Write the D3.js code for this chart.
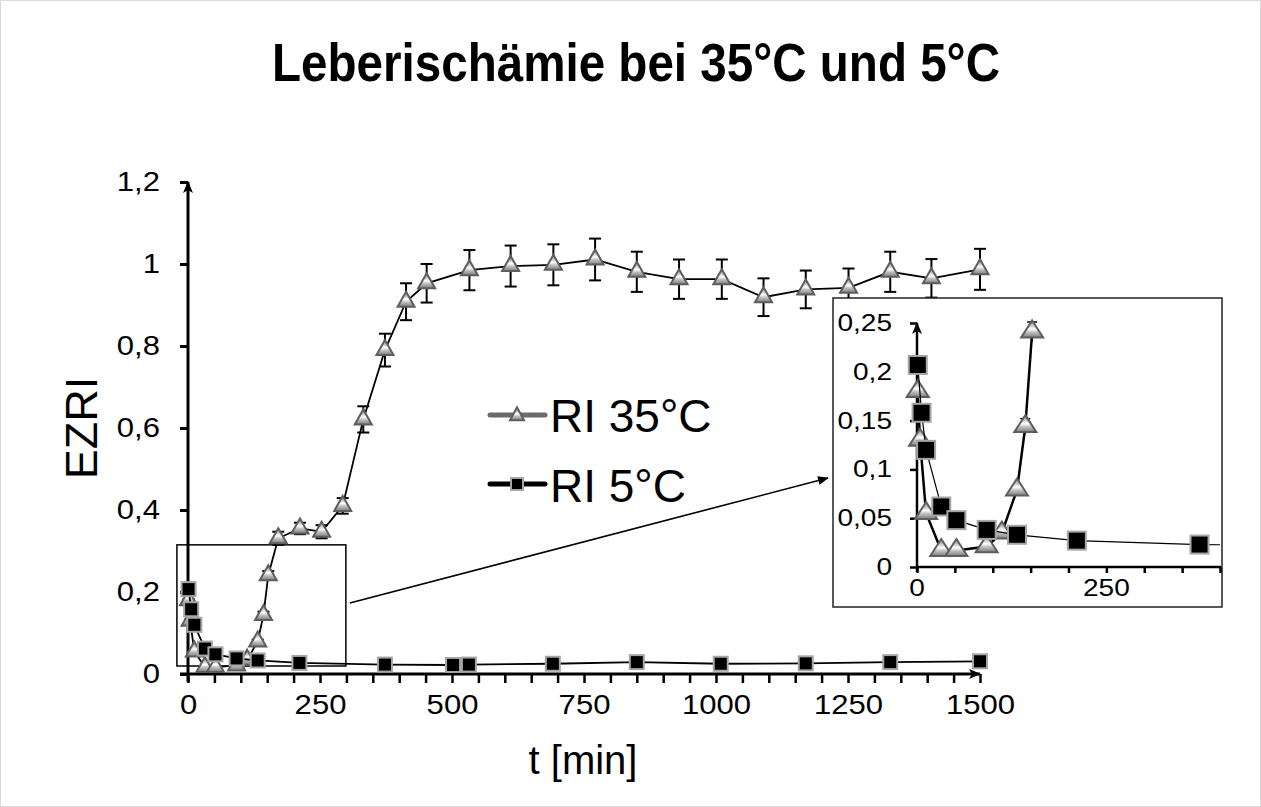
<!DOCTYPE html>
<html>
<head>
<meta charset="utf-8">
<script src="https://cdn.jsdelivr.net/npm/d3@7"></script>
<style>
  body { margin: 0; background: #fff; }
  svg { display: block; }
  text { font-family: Arial, "Liberation Sans", sans-serif; fill: #000; }
</style>
</head>
<body>
<svg id="chart" width="1261" height="807"></svg>
<script>
// ---- data ----
var titleText = "Leberischämie bei 35°C und 5°C";
var seriesNames = ["RI 35°C", "RI 5°C"];

var t35 = [1, 4, 12, 32, 52, 92, 112, 132, 143, 152, 171, 212, 253, 293, 332, 373, 413, 452,
           533, 611, 692, 771, 850, 930, 1011, 1090, 1170, 1251, 1330, 1408, 1500];
var ri35 = [0.18, 0.13, 0.055, 0.017, 0.017, 0.021, 0.035, 0.079, 0.144, 0.241, 0.331, 0.355, 0.347, 0.41, 0.621, 0.79, 0.908, 0.953,
            0.985, 0.995, 0.998, 1.011, 0.981, 0.963, 0.963, 0.919, 0.938, 0.942, 0.981, 0.965, 0.987];
var err35 = [0.003, 0.003, 0.003, 0.002, 0.002, 0.002, 0.003, 0.005, 0.008, 0.01, 0.016, 0.014, 0.016, 0.019, 0.032, 0.04, 0.045, 0.047,
             0.049, 0.05, 0.05, 0.051, 0.049, 0.048, 0.048, 0.046, 0.046, 0.047, 0.049, 0.047, 0.05];

var t5 = [1, 6, 12, 32, 52, 92, 132, 211, 373, 502, 532, 691, 850, 1009, 1170, 1330, 1500];
var ri5 = [0.207, 0.158, 0.12, 0.062, 0.048, 0.038, 0.033, 0.027, 0.023, 0.022, 0.023, 0.025, 0.029, 0.025, 0.026, 0.029, 0.031];

var xTicks = [0, 250, 500, 750, 1000, 1250, 1500];
var xMinorStep = 50;
var yTicks = [0, 0.2, 0.4, 0.6, 0.8, 1, 1.2];
var insetXTicks = [0, 250];
var insetYTicks = [0, 0.05, 0.1, 0.15, 0.2, 0.25];
var zoomRegion = [-21, 299, 0.0195, 0.315];   // t0, t1, v0, v1 shown in the inset

var s35 = t35.map(function (t, i) { return { t: t, v: ri35[i], e: err35[i] }; });
var s5 = t5.map(function (t, i) { return { t: t, v: ri5[i] }; });

var de = d3.formatLocale({ decimal: ",", thousands: ".", grouping: [3], currency: ["", " €"] });
var fmtY = de.format(".1~f");
var fmtYi = de.format(".2~f");
var fmtX = d3.format("d");

var svg = d3.select("#chart");

// outer border
svg.append("rect").attr("x", 0.5).attr("y", 0.5).attr("width", 1260).attr("height", 806)
    .attr("fill", "#fff").attr("stroke", "#d9d9d9");

var defs = svg.append("defs");
var grad = defs.append("linearGradient").attr("id", "triGrad")
    .attr("x1", 0).attr("y1", 0).attr("x2", 0).attr("y2", 1);
[[0, "#8a8a8a"], [0.3, "#c4c4c4"], [0.5, "#ffffff"], [0.7, "#bdbdbd"], [1, "#7d7d7d"]].forEach(function (s) {
    grad.append("stop").attr("offset", s[0]).attr("stop-color", s[1]);
});
defs.append("marker").attr("id", "arrowHead")
    .attr("viewBox", "0 0 12 10").attr("refX", 11).attr("refY", 5)
    .attr("markerWidth", 12).attr("markerHeight", 10).attr("markerUnits", "userSpaceOnUse")
    .attr("orient", "auto")
    .append("path").attr("d", "M0,0 L12,5 L0,10 L3,5 Z").attr("fill", "#000");
defs.append("marker").attr("id", "arrowThin")
    .attr("viewBox", "0 0 12 10").attr("refX", 11).attr("refY", 5)
    .attr("markerWidth", 13).attr("markerHeight", 9).attr("markerUnits", "userSpaceOnUse")
    .attr("orient", "auto")
    .append("path").attr("d", "M0,0 L12,5 L0,10 Z").attr("fill", "#000");

function triPath(w, h) {
    return "M0," + (-2 * h / 3) + "L" + (w / 2) + "," + (h / 3) + "L" + (-w / 2) + "," + (h / 3) + "Z";
}

// title
svg.append("text").attr("x", 636).attr("y", 81).attr("text-anchor", "middle")
    .attr("font-family", "'Liberation Sans Narrow', 'Arial Narrow', Arial, sans-serif")
    .attr("font-weight", "bold").attr("font-size", 53)
    .attr("textLength", 728).attr("lengthAdjust", "spacingAndGlyphs")
    .text(titleText);

// ---- main chart ----
var x = d3.scaleLinear().domain([0, 1500]).range([188, 980]);
var y = d3.scaleLinear().domain([0, 1.2]).range([674, 182]);

// x axis: minor ticks, labels
var gx = svg.append("g").attr("transform", "translate(0," + y(0) + ")");
gx.call(d3.axisBottom(x).tickValues(d3.range(0, 1501, xMinorStep)).tickSize(9).tickFormat(""));
gx.select(".domain").remove();
gx.selectAll(".tick line").attr("stroke-width", 2.5);
var gxl = svg.append("g").attr("transform", "translate(0," + y(0) + ")");
gxl.call(d3.axisBottom(x).tickValues(xTicks).tickSize(0).tickPadding(21).tickFormat(fmtX));
gxl.select(".domain").remove();
gxl.selectAll(".tick text").attr("font-size", 27).attr("transform", "scale(1.15,1)")
    .attr("font-family", "Arial, 'Liberation Sans', sans-serif");

// y axis
var gy = svg.append("g").attr("transform", "translate(" + x(0) + ",0)");
gy.call(d3.axisLeft(y).tickValues(yTicks).tickSize(8).tickFormat(fmtY));
gy.select(".domain").remove();
gy.selectAll(".tick line").attr("stroke-width", 3);
gy.selectAll(".tick text").attr("font-size", 27).attr("x", -28 / 1.15).attr("transform", "scale(1.15,1)")
    .attr("font-family", "Arial, 'Liberation Sans', sans-serif");

svg.append("line").attr("x1", x(0) - 8).attr("x2", x(1500)).attr("y1", y(0)).attr("y2", y(0))
    .attr("stroke", "#000").attr("stroke-width", 3).attr("marker-end", "url(#arrowHead)");
svg.append("line").attr("x1", x(0)).attr("x2", x(0)).attr("y1", y(0) + 8).attr("y2", y(1.2))
    .attr("stroke", "#000").attr("stroke-width", 3).attr("marker-end", "url(#arrowHead)");

// axis titles
svg.append("text").attr("transform", "translate(97,428) rotate(-90)").attr("text-anchor", "middle")
    .attr("font-size", 45).text("EZRI");
svg.append("text").attr("x", 583).attr("y", 774).attr("text-anchor", "middle")
    .attr("font-family", "'Open Sans', sans-serif").attr("font-size", 40).text("t [min]");

// zoom box + arrow to inset
svg.append("rect")
    .attr("x", x(zoomRegion[0])).attr("y", y(zoomRegion[3]))
    .attr("width", x(zoomRegion[1]) - x(zoomRegion[0])).attr("height", y(zoomRegion[2]) - y(zoomRegion[3]))
    .attr("fill", "none").attr("stroke", "#000").attr("stroke-width", 1.5);
svg.append("line").attr("x1", x(zoomRegion[1]) + 4).attr("y1", 603).attr("x2", 828).attr("y2", 478)
    .attr("stroke", "#000").attr("stroke-width", 1.6).attr("marker-end", "url(#arrowThin)");

var line = d3.line().x(function (d) { return x(d.t); }).y(function (d) { return y(d.v); });

// RI 35
svg.append("path").datum(s35).attr("d", line).attr("fill", "none").attr("stroke", "#000").attr("stroke-width", 1.8);
var eb = svg.append("g").attr("stroke", "#000").attr("stroke-width", 2);
eb.selectAll("line.v").data(s35).enter().append("line")
    .attr("x1", function (d) { return x(d.t); }).attr("x2", function (d) { return x(d.t); })
    .attr("y1", function (d) { return y(d.v - d.e); }).attr("y2", function (d) { return y(d.v + d.e); });
eb.selectAll("line.top").data(s35).enter().append("line")
    .attr("x1", function (d) { return x(d.t) - 6; }).attr("x2", function (d) { return x(d.t) + 6; })
    .attr("y1", function (d) { return y(d.v + d.e); }).attr("y2", function (d) { return y(d.v + d.e); });
eb.selectAll("line.bot").data(s35).enter().append("line")
    .attr("x1", function (d) { return x(d.t) - 6; }).attr("x2", function (d) { return x(d.t) + 6; })
    .attr("y1", function (d) { return y(d.v - d.e); }).attr("y2", function (d) { return y(d.v - d.e); });
svg.append("g").selectAll("path").data(s35).enter().append("path")
    .attr("transform", function (d) { return "translate(" + x(d.t) + "," + y(d.v) + ")"; })
    .attr("d", triPath(17, 15)).attr("fill", "url(#triGrad)").attr("stroke", "#5e5e5e").attr("stroke-width", 2);

// RI 5
svg.append("path").datum(s5).attr("d", line).attr("fill", "none").attr("stroke", "#000").attr("stroke-width", 1.8);
svg.append("g").selectAll("rect").data(s5).enter().append("rect")
    .attr("x", function (d) { return x(d.t) - 7; }).attr("y", function (d) { return y(d.v) - 7; })
    .attr("width", 14).attr("height", 14)
    .attr("fill", "#000").attr("stroke", "#a6a6a6").attr("stroke-width", 2);

// legend
var leg = svg.append("g");
leg.append("line").attr("x1", 490).attr("x2", 545).attr("y1", 415).attr("y2", 415)
    .attr("stroke", "#6b6b6b").attr("stroke-width", 5).attr("stroke-linecap", "round");
leg.append("path").attr("transform", "translate(517,416)").attr("d", triPath(14, 13))
    .attr("fill", "url(#triGrad)").attr("stroke", "#5e5e5e").attr("stroke-width", 2);
leg.append("text").attr("x", 550).attr("y", 432).attr("font-size", 46).text(seriesNames[0]);
leg.append("line").attr("x1", 490).attr("x2", 545).attr("y1", 484).attr("y2", 484)
    .attr("stroke", "#000").attr("stroke-width", 5).attr("stroke-linecap", "round");
leg.append("rect").attr("x", 511).attr("y", 478).attr("width", 12).attr("height", 12)
    .attr("fill", "#000").attr("stroke", "#a6a6a6").attr("stroke-width", 2);
leg.append("text").attr("x", 550).attr("y", 502).attr("font-size", 46).text(seriesNames[1]);

// ---- inset ----
var ins = svg.append("g");
ins.append("rect").attr("x", 833).attr("y", 298).attr("width", 389).attr("height", 309)
    .attr("fill", "#fff").attr("stroke", "#222").attr("stroke-width", 1.5);

var xi = d3.scaleLinear().domain([0, 400]).range([917, 1220]);
var yi = d3.scaleLinear().domain([0, 0.25]).range([567, 323]);

defs.append("clipPath").attr("id", "insetClip").append("rect")
    .attr("x", xi(0)).attr("y", yi(0.25)).attr("width", xi(400) - xi(0)).attr("height", yi(0) - yi(0.25));

var gxi = ins.append("g").attr("transform", "translate(0," + yi(0) + ")");
gxi.call(d3.axisBottom(xi).tickValues(d3.range(0, 401, 50)).tickSize(6).tickFormat(""));
gxi.select(".domain").remove();
gxi.selectAll(".tick line").attr("stroke-width", 2.5);
ins.append("g").selectAll("text").data(insetXTicks).enter().append("text")
    .attr("transform", function (d) { return "translate(" + xi(d) + ",596) scale(1.22,1)"; })
    .attr("text-anchor", "middle").attr("font-size", 23).attr("fill", "#111").text(function (d) { return d; });

var gyi = ins.append("g").attr("transform", "translate(" + xi(0) + ",0)");
gyi.call(d3.axisLeft(yi).tickValues(insetYTicks).tickSize(7).tickFormat(""));
gyi.select(".domain").remove();
gyi.selectAll(".tick line").attr("stroke-width", 2.5);
ins.append("g").selectAll("text").data(insetYTicks).enter().append("text")
    .attr("transform", function (d) { return "translate(892," + (yi(d) + 8) + ") scale(1.22,1)"; })
    .attr("text-anchor", "end").attr("font-size", 23).attr("fill", "#111").text(fmtYi);

ins.append("line").attr("x1", xi(0)).attr("x2", xi(400) + 1).attr("y1", yi(0)).attr("y2", yi(0))
    .attr("stroke", "#000").attr("stroke-width", 2.5);
ins.append("line").attr("x1", xi(0)).attr("x2", xi(0)).attr("y1", yi(0) + 5).attr("y2", yi(0.25))
    .attr("stroke", "#000").attr("stroke-width", 2.5).attr("marker-end", "url(#arrowHead)");

var lineI = d3.line().x(function (d) { return xi(d.t); }).y(function (d) { return yi(d.v); });
var inView = function (d) { return d.t <= 400 && d.v <= 0.25; };

ins.append("path").datum(s35).attr("d", lineI).attr("clip-path", "url(#insetClip)")
    .attr("fill", "none").attr("stroke", "#000").attr("stroke-width", 2.5);
var ebi = ins.append("g").attr("stroke", "#000").attr("stroke-width", 1.5);
ebi.selectAll("line.v").data(s35.filter(inView)).enter().append("line")
    .attr("x1", function (d) { return xi(d.t); }).attr("x2", function (d) { return xi(d.t); })
    .attr("y1", function (d) { return yi(d.v - d.e); }).attr("y2", function (d) { return yi(d.v + d.e); });
ebi.selectAll("line.c").data(s35.filter(inView)).enter().append("line")
    .attr("x1", function (d) { return xi(d.t) - 5; }).attr("x2", function (d) { return xi(d.t) + 5; })
    .attr("y1", function (d) { return yi(d.v + d.e); }).attr("y2", function (d) { return yi(d.v + d.e); });
ins.append("g").selectAll("path").data(s35.filter(inView)).enter().append("path")
    .attr("transform", function (d) { return "translate(" + xi(d.t) + "," + yi(d.v) + ")"; })
    .attr("d", triPath(22, 17)).attr("fill", "url(#triGrad)").attr("stroke", "#5e5e5e").attr("stroke-width", 2);

ins.append("path").datum(s5).attr("d", lineI).attr("clip-path", "url(#insetClip)")
    .attr("fill", "none").attr("stroke", "#000").attr("stroke-width", 1.2);
ins.append("g").selectAll("rect").data(s5.filter(inView)).enter().append("rect")
    .attr("x", function (d) { return xi(d.t) - 9; }).attr("y", function (d) { return yi(d.v) - 9; })
    .attr("width", 18).attr("height", 18)
    .attr("fill", "#000").attr("stroke", "#a6a6a6").attr("stroke-width", 2);
</script>
</body>
</html>
